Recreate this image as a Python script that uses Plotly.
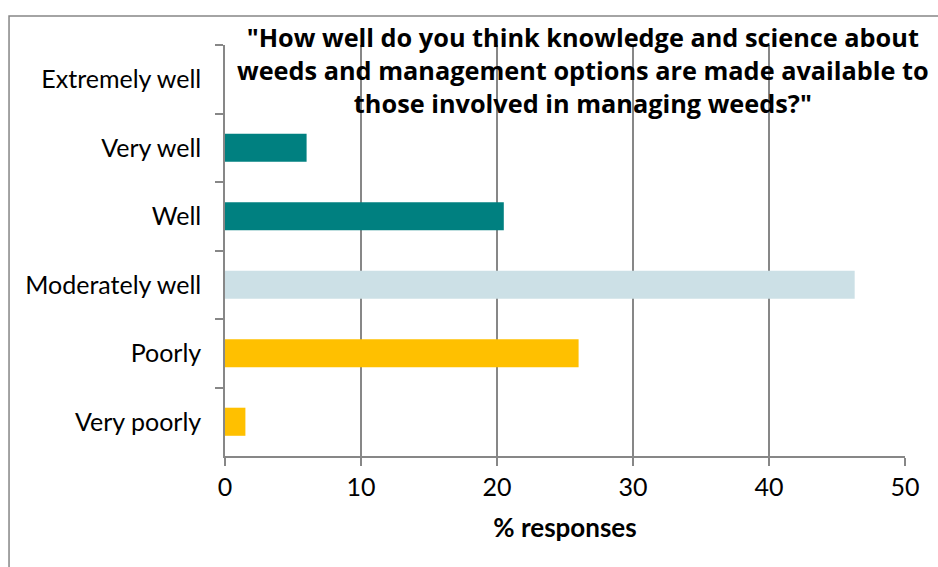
import plotly.graph_objects as go

categories = ["Extremely well", "Very well", "Well", "Moderately well", "Poorly", "Very poorly"]
values = [0, 6.0, 20.5, 46.3, 26.0, 1.5]
colors = ["#008080", "#008080", "#008080", "#CCE0E6", "#FFC000", "#FFC000"]
x_ticks = [0, 10, 20, 30, 40, 50]
title_lines = ['"How well do you think knowledge and science about',
               'weeds and management options are made available to',
               'those involved in managing weeds?"']

FONT = "Lato, 'Open Sans', sans-serif"
TFONT = "'Open Sans', Lato, sans-serif"
GRID = "#878787"

fig = go.Figure(go.Bar(
    y=categories, x=values, orientation="h",
    marker=dict(color=colors, line=dict(width=0)),
    width=0.41,
))

fig.update_layout(
    width=938, height=567,
    margin=dict(l=225, r=33, t=45, b=111),
    paper_bgcolor="white", plot_bgcolor="white",
    showlegend=False,
    font=dict(family=FONT, size=25, color="#000000"),
    xaxis=dict(
        range=[0, 50], tickvals=x_ticks, ticks="outside", ticklen=8,
        tickwidth=1.5, tickcolor=GRID,
        showgrid=True, gridcolor=GRID, gridwidth=1.5,
        showline=True, linecolor=GRID, linewidth=1.5,
        zeroline=False,
        tickfont=dict(size=25),
        title=dict(text="<b>% responses</b>", font=dict(size=26), standoff=19),
    ),
    yaxis=dict(
        categoryorder="array", categoryarray=categories, autorange="reversed",
        ticks="outside", tickson="boundaries", ticklen=8, tickwidth=1.5, tickcolor=GRID,
        showline=True, linecolor=GRID, linewidth=1.5,
        showgrid=False, zeroline=False,
        tickfont=dict(size=25),
        ticklabelstandoff=17,
    ),
    annotations=[dict(
        text="<br>".join(title_lines), xref="paper", yref="paper",
        x=0.527, y=0.939, xanchor="center", yanchor="middle",
        showarrow=False, align="center",
        font=dict(family=TFONT, size=25.3, color="#000000", weight="bold"),
    )],
    shapes=[dict(
        type="rect", xref="paper", yref="paper",
        x0=-0.3176, x1=1.2, y0=-0.5, y1=1.0706,
        line=dict(color="#868686", width=1.5), fillcolor="rgba(0,0,0,0)",
        layer="below",
    )],
)

fig.write_html("out.html")
